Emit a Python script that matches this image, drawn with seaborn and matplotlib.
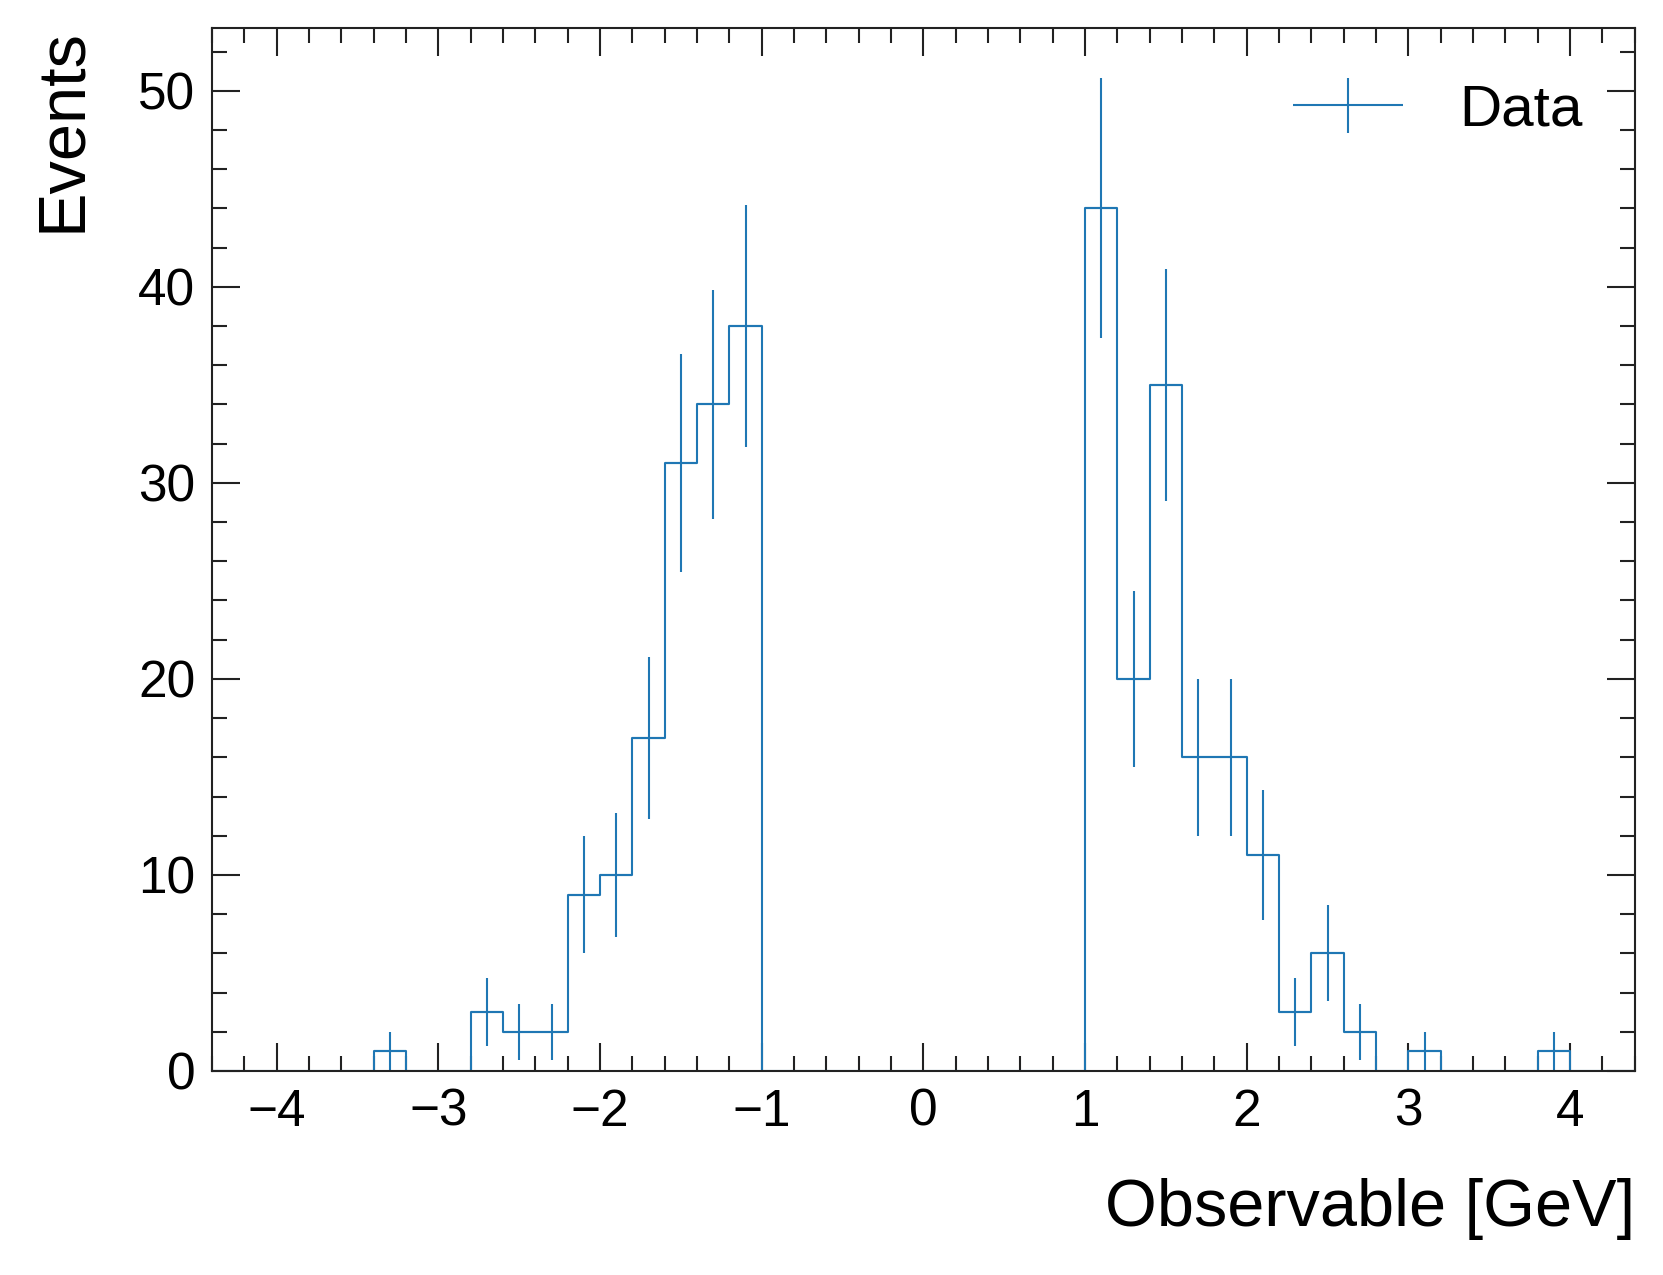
import numpy as np
import pandas as pd
import seaborn as sns
import matplotlib.pyplot as plt
from matplotlib.ticker import MultipleLocator
from matplotlib.legend_handler import HandlerErrorbar
from matplotlib.container import ErrorbarContainer

# bin edges (0.2 GeV bins) and counts
edges = [round(-4.4 + 0.2 * i, 2) for i in range(45)]
counts = [0, 0, 0, 0, 0, 1, 0, 0, 3, 2, 2, 9, 10, 17, 31, 34, 38,
          0, 0, 0, 0, 0, 0, 0, 0, 0, 0,
          44, 20, 35, 16, 16, 11, 3, 6, 2, 0, 1, 0, 0, 0, 1, 0, 0]

edges_a = np.array(edges)
centers = (edges_a[:-1] + edges_a[1:]) / 2
counts = np.array(counts, dtype=float)
errors = np.sqrt(counts)
df = pd.DataFrame({'x': centers, 'n': counts})

sns.set_style("ticks")
plt.rcParams['font.family'] = ['Liberation Sans', 'DejaVu Sans']
plt.rcParams['axes.linewidth'] = 1.5
plt.rcParams['axes.edgecolor'] = '#222222'
plt.rcParams['text.color'] = 'black'
plt.rcParams['axes.labelcolor'] = 'black'
plt.rcParams['xtick.labelcolor'] = 'black'
plt.rcParams['ytick.labelcolor'] = 'black'

color = '#1f77b4'

fig = plt.figure(figsize=(16.63, 12.75), dpi=100)
ax = fig.add_axes([0.1275, 0.16, 0.8555, 0.818])

sns.histplot(data=df, x='x', weights='n', bins=edges, element="step",
             fill=False, color=color, linewidth=1.5, ax=ax)

nz = counts > 0
ax.errorbar(centers[nz], counts[nz], yerr=errors[nz], xerr=0.1,
            fmt='none', ecolor=color, elinewidth=1.5, label='Data')

ax.set_xlim(-4.4, 4.4)
ax.set_ylim(0, 53.2)
ax.xaxis.set_major_locator(MultipleLocator(1))
ax.xaxis.set_minor_locator(MultipleLocator(0.2))
ax.yaxis.set_major_locator(MultipleLocator(10))
ax.yaxis.set_minor_locator(MultipleLocator(2))
ax.tick_params(which='both', direction='in', top=True, right=True,
               width=1.5, color='#222222')
ax.tick_params(which='major', length=20, labelsize=37, pad=12)
ax.tick_params(which='minor', length=11)

ax.set_xlabel('Observable [GeV]', fontsize=48, loc='right', labelpad=30)
ax.set_ylabel('Events', fontsize=48, loc='top', labelpad=32)

ax.legend(loc='upper right', frameon=False, fontsize=42,
          handlelength=2.0, handletextpad=0.9,
          bbox_to_anchor=(1.0, 0.997),
          handler_map={ErrorbarContainer: HandlerErrorbar(xerr_size=0.95, yerr_size=0.47)})

fig.savefig('out.png', dpi=100)
